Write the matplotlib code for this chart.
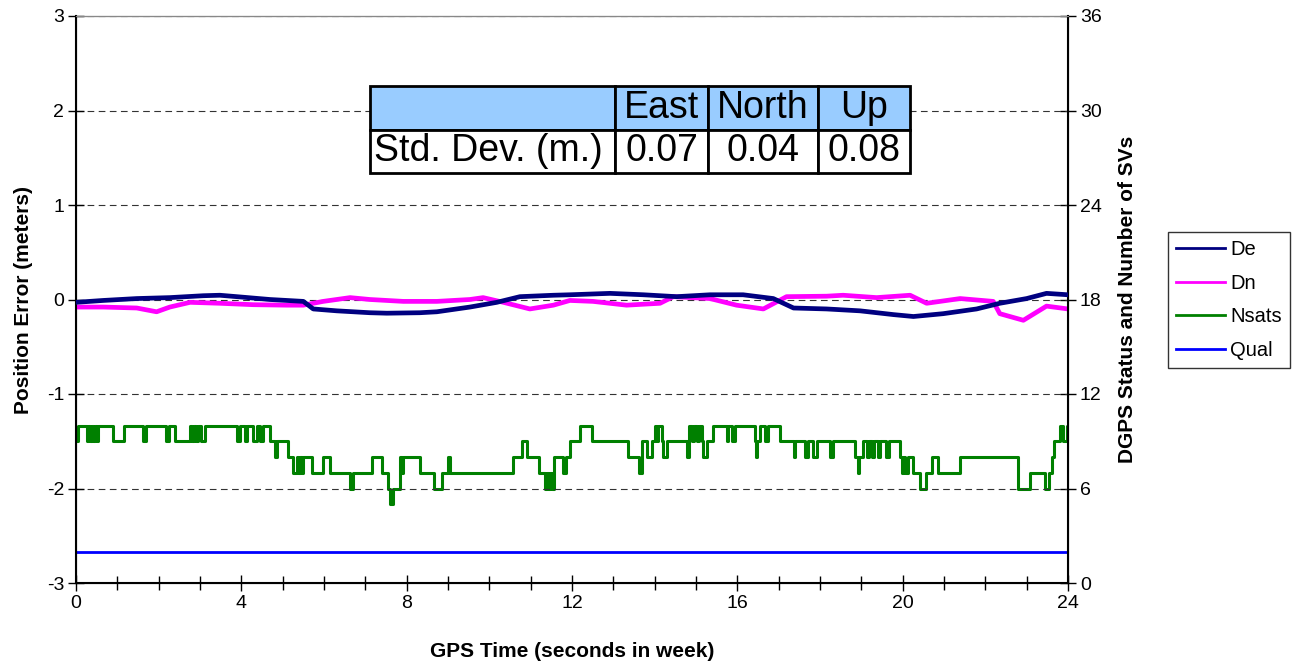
import matplotlib
matplotlib.use("Agg")
import matplotlib.pyplot as plt
from matplotlib.lines import Line2D

plt.rcParams["font.family"] = ["Liberation Sans", "DejaVu Sans"]
plt.rcParams["axes.unicode_minus"] = False

# East error (m)
de_t = [0.0, 0.66, 1.47, 2.27, 3.08, 3.48, 3.89, 4.69, 5.50, 5.74, 6.31, 7.11, 7.52,
        8.32, 8.73, 9.53, 10.18, 10.74, 11.55, 11.95, 12.92, 13.73, 14.53, 15.34,
        16.14, 16.87, 17.36, 18.16, 18.97, 19.78, 20.26, 20.98, 21.79, 22.35, 23.0,
        23.48, 24.0]
de_v = [-0.03, -0.01, 0.01, 0.02, 0.04, 0.045, 0.03, 0.0, -0.02, -0.10, -0.12, -0.14,
        -0.145, -0.14, -0.13, -0.08, -0.03, 0.03, 0.045, 0.05, 0.065, 0.05, 0.03, 0.05,
        0.05, 0.01, -0.09, -0.10, -0.12, -0.16, -0.18, -0.15, -0.10, -0.04, 0.01,
        0.065, 0.05]

# North error (m)
dn_t = [0.0, 0.66, 1.47, 1.95, 2.27, 2.76, 3.48, 4.29, 5.10, 5.50, 5.98, 6.63, 7.11,
        7.92, 8.73, 9.53, 9.85, 10.34, 10.98, 11.55, 11.95, 12.51, 13.32, 14.13,
        14.45, 15.34, 15.98, 16.63, 17.19, 18.16, 18.56, 19.37, 20.18, 20.58, 21.39,
        22.19, 22.35, 22.92, 23.48, 24.0]
dn_v = [-0.08, -0.08, -0.09, -0.13, -0.08, -0.03, -0.04, -0.055, -0.06, -0.06, -0.02,
        0.02, 0.0, -0.02, -0.02, 0.0, 0.02, -0.03, -0.10, -0.06, -0.01, -0.02, -0.06,
        -0.04, 0.03, 0.01, -0.06, -0.10, 0.03, 0.035, 0.045, 0.02, 0.045, -0.04, 0.01,
        -0.02, -0.15, -0.22, -0.07, -0.10]

# Number of satellites (change points, step after)
ns_t = [0.0, 0.06, 0.26, 0.30, 0.34, 0.38, 0.42, 0.46, 0.50, 0.54, 0.90, 1.15, 1.61,
        1.69, 2.18, 2.26, 2.40, 2.76, 2.80, 2.86, 2.90, 2.96, 3.02, 3.12, 3.89, 3.97,
        4.09, 4.13, 4.29, 4.37, 4.45, 4.53, 4.69, 4.81, 4.87, 5.14, 5.26, 5.34, 5.38,
        5.42, 5.46, 5.50, 5.70, 5.98, 6.15, 6.63, 6.69, 7.15, 7.40, 7.56, 7.60, 7.66,
        7.84, 7.88, 7.92, 8.32, 8.65, 8.85, 9.01, 9.05, 10.58, 10.78, 10.90, 11.19,
        11.35, 11.39, 11.43, 11.47, 11.51, 11.57, 11.79, 11.86, 11.95, 12.19, 12.49,
        13.36, 13.63, 13.69, 13.82, 13.93, 14.01, 14.05, 14.09, 14.17, 14.21, 14.29,
        14.78, 14.82, 14.90, 14.96, 15.02, 15.08, 15.14, 15.18, 15.26, 15.42, 15.74,
        15.78, 15.86, 15.94, 16.43, 16.45, 16.47, 16.55, 16.67, 16.75, 17.03, 17.36,
        17.40, 17.64, 17.72, 17.84, 17.92, 18.24, 18.31, 18.85, 18.91, 18.95, 19.05,
        19.13, 19.18, 19.25, 19.30, 19.40, 19.45, 19.60, 19.66, 19.94, 19.98, 20.02,
        20.06, 20.12, 20.18, 20.26, 20.42, 20.57, 20.70, 20.86, 21.39, 22.80, 23.08,
        23.45, 23.53, 23.61, 23.65, 23.81, 23.89, 23.97, 24.0]
ns_v = [9, 10, 9, 10, 9, 10, 9, 10, 9, 10, 9, 10, 9,
        10, 9, 10, 9, 10, 9, 10, 9, 10, 9, 10, 9, 10,
        9, 10, 9, 10, 9, 10, 9, 8, 9, 8, 7, 8, 7,
        8, 7, 8, 7, 8, 7, 6, 7, 8, 7, 6, 5, 6,
        8, 7, 8, 7, 6, 7, 8, 7, 8, 9, 8, 7,
        6, 7, 6, 7, 6, 8, 7, 8, 9, 10, 9,
        8, 7, 9, 8, 9, 10, 9, 10, 9, 8, 9,
        8, 10, 9, 10, 9, 10, 9, 8, 9, 10, 9,
        10, 9, 10, 9, 8, 9, 10, 9, 10, 9, 8,
        9, 8, 9, 8, 9, 8, 9, 8, 7, 8, 9,
        8, 9, 8, 9, 8, 9, 8, 9, 8, 7, 8,
        7, 8, 8, 7, 6, 7, 8, 7, 8, 6, 7,
        6, 7, 8, 9, 10, 9, 10, 10]

# DGPS quality flag
qual_t = [0.0, 24.0]
qual_v = [2, 2]

table_cols = ["", "East", "North", "Up"]
table_row = ["Std. Dev. (m.)", "0.07", "0.04", "0.08"]

fig = plt.figure(figsize=(12.94, 6.67), dpi=100)
ax = fig.add_axes([76 / 1294, 84 / 667, 992 / 1294, 567 / 667])
ax2 = ax.twinx()

ax.plot(de_t, de_v, color="#000080", lw=3.4, zorder=3)
ax.plot(dn_t, dn_v, color="#FF00FF", lw=3.4, zorder=2)
ax2.step(ns_t, ns_v, where="post", color="#008000", lw=2.2)
ax2.plot(qual_t, qual_v, color="#0000FF", lw=2)
ax.set_zorder(ax2.get_zorder() + 1)
ax.patch.set_visible(False)

ax.set_xlim(0, 24)
ax.set_ylim(-3, 3)
ax2.set_ylim(0, 36)
ax.set_xticks(range(0, 25, 4))
ax.set_xticks(range(0, 25), minor=True)
ax.set_yticks(range(-3, 4))
ax2.set_yticks(range(0, 37, 6))
for a in (ax, ax2):
    a.tick_params(which="both", direction="inout", length=11, width=1,
                  labelsize=14, pad=3)
ax.tick_params(axis="x", which="minor", length=10)
ax.yaxis.grid(True, linestyle=(0, (6, 4)), color="#333333", lw=0.8)
for s in ("left", "right", "bottom"):
    ax.spines[s].set_linewidth(1.5)
ax.spines["top"].set_color("#888888")

ax.set_xlabel("GPS Time (seconds in week)", fontsize=15, fontweight="bold",
              labelpad=22)
ax.set_ylabel("Position Error (meters)", fontsize=15, fontweight="bold",
              labelpad=10)
ax2.set_ylabel("DGPS Status and Number of SVs", fontsize=15, fontweight="bold",
               labelpad=12)

tbl = ax.table(cellText=[table_row], colLabels=table_cols,
               colWidths=[245, 93, 110, 92],
               bbox=[294 / 992, 410 / 567, 540 / 992, 87 / 567])
tbl.set_zorder(10)
tbl.auto_set_font_size(False)
for (r, c), cell in tbl.get_celld().items():
    cell.set_linewidth(2)
    cell.set_text_props(fontsize=27)
    cell.get_text().set_ha("center")
    if r == 0:
        cell.set_facecolor("#99CCFF")
    if c == 0:
        cell.get_text().set_ha("left")
        cell.PAD = 0.015

handles = [Line2D([], [], color="#000080", lw=2),
           Line2D([], [], color="#FF00FF", lw=2),
           Line2D([], [], color="#008000", lw=2),
           Line2D([], [], color="#0000FF", lw=2)]
fig.legend(handles, ["De", "Dn", "Nsats", "Qual"], loc="upper left",
           bbox_to_anchor=(1168 / 1294, 1 - 232 / 667), fontsize=14.5,
           frameon=True, fancybox=False, edgecolor="black", handlelength=2.45,
           handletextpad=0.25, borderpad=0.4, labelspacing=0.72,
           borderaxespad=0)

fig.savefig("out.png", dpi=100)
